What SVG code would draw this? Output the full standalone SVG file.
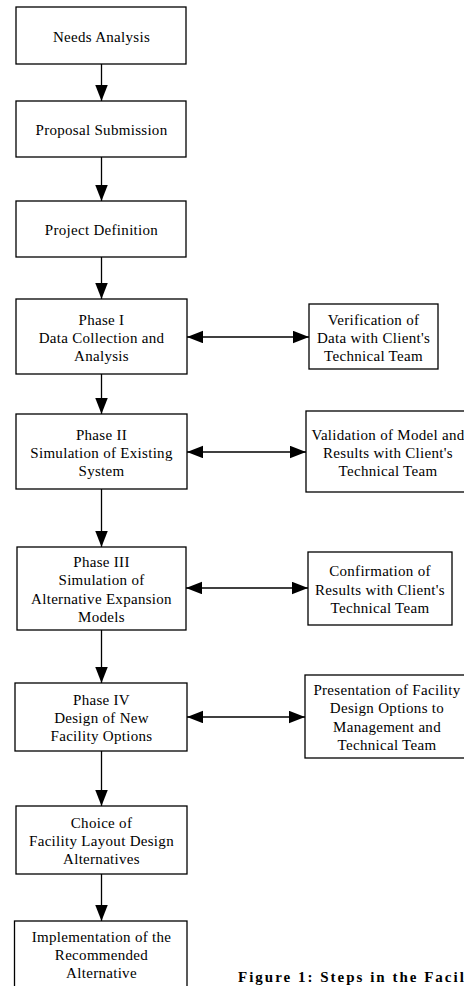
<svg xmlns="http://www.w3.org/2000/svg" width="464" height="986" viewBox="0 0 464 986">
<style>
  .box { fill: #fff; stroke: #000; stroke-width: 1.3; }
  .t { font-family: "Liberation Serif", "Times New Roman", serif; font-size: 15px; fill: #000; text-anchor: middle; letter-spacing: 0.3px; }
  .cap { font-family: "Liberation Serif", "Times New Roman", serif; font-size: 15px; font-weight: bold; fill: #000; letter-spacing: 2px; }
  .c { stroke: #000; stroke-width: 1.3; fill: none; }
</style>
<defs>
  <marker id="ah" markerUnits="userSpaceOnUse" markerWidth="17" markerHeight="13" refX="16" refY="6.25" orient="auto-start-reverse">
    <path d="M0,0 L16,6.25 L0,12.5 z" fill="#000"/>
  </marker>
</defs>
<rect width="464" height="986" fill="#fff"/>

<g id="connectors">
  <line class="c" x1="101.5" y1="64" x2="101.5" y2="101" marker-end="url(#ah)"/>
  <line class="c" x1="101.5" y1="157" x2="101.5" y2="201" marker-end="url(#ah)"/>
  <line class="c" x1="101.5" y1="257" x2="101.5" y2="299" marker-end="url(#ah)"/>
  <line class="c" x1="101.5" y1="374" x2="101.5" y2="414" marker-end="url(#ah)"/>
  <line class="c" x1="101.5" y1="489" x2="101.5" y2="547" marker-end="url(#ah)"/>
  <line class="c" x1="101.5" y1="630" x2="101.5" y2="683" marker-end="url(#ah)"/>
  <line class="c" x1="101.5" y1="751" x2="101.5" y2="806" marker-end="url(#ah)"/>
  <line class="c" x1="101.5" y1="874" x2="101.5" y2="921" marker-end="url(#ah)"/>
  <line class="c" x1="187" y1="337" x2="309" y2="337" marker-start="url(#ah)" marker-end="url(#ah)"/>
  <line class="c" x1="187" y1="452" x2="306" y2="452" marker-start="url(#ah)" marker-end="url(#ah)"/>
  <line class="c" x1="186" y1="588" x2="308" y2="588" marker-start="url(#ah)" marker-end="url(#ah)"/>
  <line class="c" x1="187" y1="717" x2="305" y2="717" marker-start="url(#ah)" marker-end="url(#ah)"/>
</g>

<g id="needs-analysis">
  <rect class="box" x="16" y="7" width="170" height="57"/>
  <text class="t" x="101.5" y="41.5">Needs Analysis</text>
</g>
<g id="proposal-submission">
  <rect class="box" x="16" y="101" width="170" height="56"/>
  <text class="t" x="101.5" y="135">Proposal Submission</text>
</g>
<g id="project-definition">
  <rect class="box" x="16" y="201" width="170" height="56"/>
  <text class="t" x="101.5" y="235">Project Definition</text>
</g>
<g id="phase-1">
  <rect class="box" x="16" y="299" width="171" height="75"/>
  <text class="t" x="101.5" y="324.5">Phase I</text>
  <text class="t" x="101.5" y="342.7">Data Collection and</text>
  <text class="t" x="101.5" y="360.9">Analysis</text>
</g>
<g id="phase-2">
  <rect class="box" x="16" y="414" width="171" height="75"/>
  <text class="t" x="101.5" y="439.5">Phase II</text>
  <text class="t" x="101.5" y="457.7">Simulation of Existing</text>
  <text class="t" x="101.5" y="475.9">System</text>
</g>
<g id="phase-3">
  <rect class="box" x="17" y="547" width="169" height="83"/>
  <text class="t" x="101.5" y="567.2">Phase III</text>
  <text class="t" x="101.5" y="585.4">Simulation of</text>
  <text class="t" x="101.5" y="603.6">Alternative Expansion</text>
  <text class="t" x="101.5" y="621.8">Models</text>
</g>
<g id="phase-4">
  <rect class="box" x="15" y="683" width="172" height="68"/>
  <text class="t" x="101.5" y="704.8">Phase IV</text>
  <text class="t" x="101.5" y="723">Design of New</text>
  <text class="t" x="101.5" y="741.2">Facility Options</text>
</g>
<g id="choice">
  <rect class="box" x="16" y="806" width="171" height="68"/>
  <text class="t" x="101.5" y="827.8">Choice of</text>
  <text class="t" x="101.5" y="846">Facility Layout Design</text>
  <text class="t" x="101.5" y="864.2">Alternatives</text>
</g>
<g id="implementation">
  <rect class="box" x="14.5" y="921" width="172.5" height="70"/>
  <text class="t" x="101.5" y="942">Implementation of the</text>
  <text class="t" x="101.5" y="960.2">Recommended</text>
  <text class="t" x="101.5" y="978.4">Alternative</text>
</g>

<g id="verification">
  <rect class="box" x="309" y="304" width="129" height="65"/>
  <text class="t" x="373.5" y="324.5">Verification of</text>
  <text class="t" x="373.5" y="342.7">Data with Client's</text>
  <text class="t" x="373.5" y="360.9">Technical Team</text>
</g>
<g id="validation">
  <rect class="box" x="306" y="411" width="165" height="81"/>
  <text class="t" x="388" y="439.5">Validation of Model and</text>
  <text class="t" x="388" y="457.7">Results with Client's</text>
  <text class="t" x="388" y="475.9">Technical Team</text>
</g>
<g id="confirmation">
  <rect class="box" x="308" y="552" width="144" height="73"/>
  <text class="t" x="380" y="576.3">Confirmation of</text>
  <text class="t" x="380" y="594.5">Results with Client's</text>
  <text class="t" x="380" y="612.7">Technical Team</text>
</g>
<g id="presentation">
  <rect class="box" x="305" y="675" width="166" height="83"/>
  <text class="t" x="387" y="695.2">Presentation of Facility</text>
  <text class="t" x="387" y="713.4">Design Options to</text>
  <text class="t" x="387" y="731.6">Management and</text>
  <text class="t" x="387" y="749.8">Technical Team</text>
</g>

<text class="cap" x="238" y="982">Figure 1: Steps in the Facility</text>
</svg>
